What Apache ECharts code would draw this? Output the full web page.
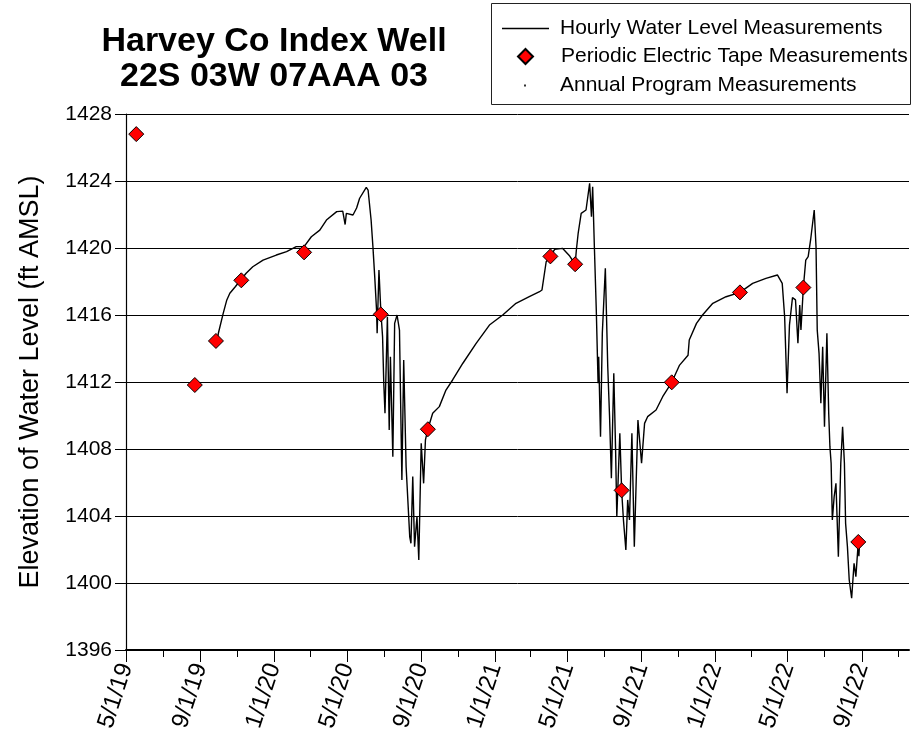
<!DOCTYPE html>
<html>
<head>
<meta charset="utf-8">
<script src="https://cdn.jsdelivr.net/npm/echarts@6/dist/echarts.min.js"></script>
<style>
  html, body { margin: 0; padding: 0; background: #fff; }
  #chart { width: 911px; height: 747px; }
</style>
</head>
<body>
<div id="chart"></div>
<script>
// hourly transducer record
var hourlyDates = [
  '2019-09-30','2019-10-01','2019-10-09','2019-10-15','2019-10-20','2019-10-29','2019-11-07','2019-11-16',
  '2019-11-27','2019-12-14','2020-01-05','2020-01-22','2020-02-07','2020-02-20','2020-03-03','2020-03-17',
  '2020-03-28','2020-04-14','2020-04-24','2020-04-28','2020-04-30','2020-05-11','2020-05-17','2020-05-22',
  '2020-06-02','2020-06-05','2020-06-10','2020-06-13','2020-06-16','2020-06-19','2020-06-20','2020-06-23',
  '2020-06-26','2020-06-29','2020-07-01','2020-07-03','2020-07-07','2020-07-10','2020-07-12','2020-07-16',
  '2020-07-19','2020-07-23','2020-07-27','2020-07-31','2020-08-03','2020-08-07','2020-08-13','2020-08-15',
  '2020-08-18','2020-08-21','2020-08-25','2020-08-28','2020-09-01','2020-09-05','2020-09-08','2020-09-12',
  '2020-09-20','2020-10-01','2020-10-12','2020-10-23','2020-11-09','2020-12-01','2020-12-23','2021-01-14',
  '2021-02-05','2021-02-27','2021-03-16','2021-03-20','2021-03-27','2021-04-03','2021-04-10','2021-04-23',
  '2021-05-05','2021-05-14','2021-05-16','2021-05-19','2021-05-24','2021-06-01','2021-06-07','2021-06-10',
  '2021-06-12','2021-06-15','2021-06-18','2021-06-21','2021-06-22','2021-06-25','2021-06-28','2021-07-03',
  '2021-07-07','2021-07-10','2021-07-13','2021-07-17','2021-07-20','2021-07-22','2021-07-27','2021-07-30',
  '2021-08-02','2021-08-06','2021-08-09','2021-08-12','2021-08-16','2021-08-20','2021-08-26','2021-09-01',
  '2021-09-06','2021-09-11','2021-09-25','2021-10-06','2021-10-21','2021-11-03','2021-11-17','2021-11-19',
  '2021-12-01','2021-12-11','2021-12-28','2022-01-19','2022-02-11','2022-03-04','2022-03-26','2022-04-14',
  '2022-04-22','2022-04-26','2022-04-30','2022-05-04','2022-05-09','2022-05-14','2022-05-18','2022-05-21',
  '2022-05-23','2022-05-27','2022-05-31','2022-06-04','2022-06-08','2022-06-14','2022-06-17','2022-06-19',
  '2022-06-22','2022-06-25','2022-06-28','2022-07-01','2022-07-05','2022-07-08','2022-07-10','2022-07-12',
  '2022-07-14','2022-07-17','2022-07-20','2022-07-24','2022-07-28','2022-07-31','2022-08-03','2022-08-05',
  '2022-08-08','2022-08-11','2022-08-15','2022-08-19','2022-08-22','2022-08-26','2022-08-27','2022-08-28'
]
var hourlyLevels = [
  1414.70,1414.91,1416.10,1416.90,1417.30,1417.69,1418.09,1418.49,
  1418.88,1419.28,1419.58,1419.78,1420.08,1420.08,1420.67,1421.07,
  1421.67,1422.17,1422.20,1421.40,1422.07,1421.97,1422.39,1422.97,
  1423.62,1423.46,1421.67,1420.08,1418.29,1416.30,1414.91,1418.69,
  1416.30,1414.70,1411.92,1410.13,1415.90,1409.13,1413.51,1407.54,
  1415.50,1416.00,1415.10,1406.15,1413.31,1406.94,1402.76,1402.37,
  1406.35,1402.17,1403.96,1401.37,1408.34,1405.95,1408.54,1409.18,
  1410.13,1410.53,1411.52,1412.12,1413.12,1414.31,1415.40,1416.00,
  1416.70,1417.09,1417.39,1417.49,1419.18,1419.50,1419.92,1419.98,
  1419.52,1419.03,1419.88,1420.88,1422.07,1422.27,1423.86,1421.87,
  1423.66,1419.88,1416.30,1411.92,1413.51,1408.73,1414.91,1418.79,
  1412.91,1409.93,1406.25,1412.52,1407.94,1403.96,1408.94,1405.53,
  1403.76,1401.97,1404.96,1403.76,1408.94,1402.17,1409.73,1407.15,
  1409.53,1409.93,1410.33,1411.12,1411.98,1413.01,1413.60,1414.51,
  1415.50,1416.00,1416.70,1417.09,1417.35,1417.89,1418.19,1418.39,
  1417.89,1415.90,1411.33,1415.40,1417.04,1416.90,1414.31,1416.60,
  1415.10,1417.64,1419.28,1419.48,1420.48,1422.27,1420.08,1415.10,
  1413.71,1410.73,1414.11,1409.33,1414.91,1410.13,1408.14,1407.15,
  1403.76,1405.15,1405.95,1401.57,1407.15,1409.33,1407.15,1403.56,
  1402.17,1400.18,1399.09,1401.18,1400.38,1402.45,1401.60,1402.30
]

// electric tape readings
var tapeDates = [
  '2019-05-18','2019-08-23','2019-09-27','2019-11-08','2020-02-20','2020-06-26','2020-09-12',
  '2021-04-03','2021-05-14','2021-07-30','2021-10-21','2022-02-11','2022-05-27','2022-08-26'
]
var tapeLevels = [
  1426.80,1411.82,1414.45,1418.07,1419.74,1416.04,1409.18,
  1419.50,1419.03,1405.53,1411.98,1417.35,1417.64,1402.45
]

// annual program (nothing visible on the plot)
var annualDates = []
var annualLevels = []

var tickDates = ['2019-05-01','2019-09-01','2020-01-01','2020-05-01','2020-09-01','2021-01-01',
  '2021-05-01','2021-09-01','2022-01-01','2022-05-01','2022-09-01']
var tickLabels = ['5/1/19','9/1/19','1/1/20','5/1/20','9/1/20','1/1/21','5/1/21','9/1/21','1/1/22','5/1/22','9/1/22']
var minorTickDates = ['2019-07-01','2019-11-01','2020-03-01','2020-07-01','2020-11-01','2021-03-01',
  '2021-07-01','2021-11-01','2022-03-01','2022-07-01','2022-11-01']

var FONT = '"Liberation Sans", Arial, sans-serif'

function toTime(s) {
  return Date.UTC(+s.slice(0, 4), +s.slice(5, 7) - 1, +s.slice(8, 10))
}
var tickValues = tickDates.map(toTime)
var minorTickValues = minorTickDates.map(toTime)
var xMin = toTime('2019-05-01')
var xMax = toTime('2022-11-18')

function pairs(dates, vals) {
  return dates.map(function (d, i) { return [toTime(d), vals[i]] })
}

var legendText = { fontFamily: FONT, fontSize: 21, color: '#000' }

var myChart = echarts.init(document.getElementById('chart'))
myChart.setOption({
  animation: false,
  backgroundColor: '#fff',
  textStyle: { fontFamily: FONT, color: '#000' },
  grid: { left: 126, right: 2, top: 114, bottom: 97 },
  graphic: [
    {
      type: 'text', x: 274, y: 24,
      style: {
        text: 'Harvey Co Index Well\n22S 03W 07AAA 03',
        fontFamily: FONT, fontSize: 34, fontWeight: 'bold', lineHeight: 35,
        textAlign: 'center', fill: '#000'
      }
    },
    {
      type: 'rect', shape: { x: 491.5, y: 3.5, width: 419, height: 101 },
      style: { fill: 'none', stroke: '#222', lineWidth: 1 }
    }
  ],
  legend: [
    {
      data: [{ name: 'Hourly Water Level Measurements', icon: 'rect' }],
      left: 502, top: 18, padding: 0,
      itemWidth: 47, itemHeight: 1.6, selectedMode: false,
      itemStyle: { color: '#000', borderWidth: 0 },
      textStyle: Object.assign({ padding: [0, 0, 0, 6] }, legendText)
    },
    {
      data: ['Periodic Electric Tape Measurements'], left: 517, top: 46, padding: 0,
      itemWidth: 15, itemHeight: 15, selectedMode: false,
      textStyle: Object.assign({ padding: [0, 0, 0, 23] }, legendText)
    },
    {
      data: ['Annual Program Measurements'], left: 524, top: 75, padding: 0,
      itemWidth: 2, itemHeight: 2, selectedMode: false,
      textStyle: Object.assign({ padding: [0, 0, 0, 29] }, legendText)
    }
  ],
  xAxis: [
    {
      type: 'value', min: xMin, max: xMax,
      axisLine: { lineStyle: { color: '#000', width: 2 } },
      axisTick: { customValues: tickValues, length: 12, lineStyle: { color: '#000' } },
      axisLabel: {
        customValues: tickValues, rotate: 72, margin: 14, fontSize: 24, color: '#000', fontFamily: FONT,
        formatter: function (v) {
          var i = tickValues.indexOf(v)
          return i >= 0 ? tickLabels[i] : ''
        }
      },
      splitLine: { show: false }
    },
    {
      type: 'value', min: xMin, max: xMax, position: 'bottom',
      axisLine: { show: false },
      axisTick: { customValues: minorTickValues, length: 7, lineStyle: { color: '#000' } },
      axisLabel: { show: false },
      splitLine: { show: false }
    }
  ],
  yAxis: {
    type: 'value', min: 1396, max: 1428, interval: 4,
    name: 'Elevation of Water Level (ft AMSL)', nameLocation: 'middle', nameGap: 82,
    nameTextStyle: { fontFamily: FONT, fontSize: 27, color: '#000' },
    axisLine: { show: true, lineStyle: { color: '#000', width: 1.2 } },
    axisTick: { show: true, length: 11, lineStyle: { color: '#000' } },
    axisLabel: {
      margin: 14, fontSize: 21, color: '#000', fontFamily: FONT,
      formatter: function (v) { return String(v) }
    },
    splitLine: { show: true, lineStyle: { color: '#000', width: 1 } }
  },
  series: [
    {
      name: 'Hourly Water Level Measurements',
      type: 'line',
      data: pairs(hourlyDates, hourlyLevels),
      symbol: 'none',
      lineStyle: { color: '#000', width: 1.4 },
      itemStyle: { color: '#000' },
      z: 2
    },
    {
      name: 'Periodic Electric Tape Measurements',
      type: 'scatter',
      data: pairs(tapeDates, tapeLevels),
      symbol: 'diamond',
      symbolSize: 15,
      itemStyle: { color: '#ff0000', borderColor: '#000', borderWidth: 1, opacity: 1 },
      z: 4
    },
    {
      name: 'Annual Program Measurements',
      type: 'scatter',
      data: pairs(annualDates, annualLevels),
      symbol: 'rect',
      symbolSize: 2,
      itemStyle: { color: '#000' },
      z: 5
    }
  ]
})
</script>
</body>
</html>
